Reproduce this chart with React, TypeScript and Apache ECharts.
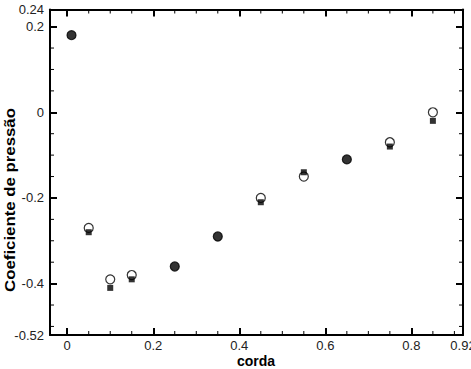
import React, { useEffect, useRef } from "react";
import * as echarts from "echarts";

const chord = [0.01, 0.05, 0.1, 0.15, 0.25, 0.35, 0.45, 0.55, 0.65, 0.75, 0.85];
const cpCircles = [0.18, -0.27, -0.39, -0.38, -0.36, -0.29, -0.2, -0.15, -0.11, -0.07, 0.0];
const cpSquares = [0.18, -0.28, -0.41, -0.39, -0.36, -0.29, -0.21, -0.14, -0.11, -0.08, -0.02];
const xMinorTicks = [0.05, 0.1, 0.15, 0.25, 0.3, 0.35, 0.45, 0.5, 0.55, 0.65, 0.7, 0.75, 0.85, 0.9];
const yMinorTicks = [-0.5, -0.45, -0.35, -0.3, -0.25, -0.15, -0.1, -0.05, 0.05, 0.1, 0.15];

const font = "Liberation Sans, Arial, Helvetica, sans-serif";
const X_MIN = -0.04;
const X_MAX = 0.92;
const Y_MIN = -0.52;
const Y_MAX = 0.24;

export default function App() {
  const ref = useRef<HTMLDivElement>(null);
  useEffect(() => {
    if (!ref.current) return;
    const chart = echarts.init(ref.current, null, { renderer: "svg" });

    const circleData = chord.map((x, i) => [x, cpCircles[i]]);
    const squareData = chord.map((x, i) =>
      Math.abs(cpCircles[i] - cpSquares[i]) < 1e-9
        ? { value: [x, cpSquares[i]], symbol: "circle", symbolSize: 9 }
        : { value: [x, cpSquares[i]] }
    );

    const minorLen = 4;
    const xMinorSeries = {
      type: "custom",
      xAxisIndex: 0,
      yAxisIndex: 0,
      silent: true,
      clip: false,
      data: xMinorTicks.map((v) => [v, Y_MIN]),
      renderItem: (params: any, api: any) => {
        const p = api.coord([api.value(0), Y_MIN]);
        const q = api.coord([api.value(0), Y_MAX]);
        return {
          type: "group",
          children: [
            { type: "line", shape: { x1: p[0], y1: p[1], x2: p[0], y2: p[1] - minorLen }, style: { stroke: "black", lineWidth: 1 } },
            { type: "line", shape: { x1: q[0], y1: q[1], x2: q[0], y2: q[1] + minorLen }, style: { stroke: "black", lineWidth: 1 } },
          ],
        };
      },
    };
    const yMinorSeries = {
      type: "custom",
      xAxisIndex: 0,
      yAxisIndex: 0,
      silent: true,
      clip: false,
      data: yMinorTicks.map((v) => [X_MIN, v]),
      renderItem: (params: any, api: any) => {
        const p = api.coord([X_MIN, api.value(1)]);
        const q = api.coord([X_MAX, api.value(1)]);
        return {
          type: "group",
          children: [
            { type: "line", shape: { x1: p[0], y1: p[1], x2: p[0] + minorLen, y2: p[1] }, style: { stroke: "black", lineWidth: 1 } },
            { type: "line", shape: { x1: q[0], y1: q[1], x2: q[0] - minorLen, y2: q[1] }, style: { stroke: "black", lineWidth: 1 } },
          ],
        };
      },
    };

    chart.setOption({
      animation: false,
      grid: { left: 50, top: 9.5, right: 8, bottom: 34, outerBoundsMode: "none" },
      xAxis: [
        { type: "value", position: "bottom", min: X_MIN, max: X_MAX, axisLine: { show: true, onZero: false, lineStyle: { color: "black", width: 2 } }, axisTick: { show: true, inside: true, length: 7, lineStyle: { color: "black", width: 2 } }, axisLabel: { color: "#222", fontSize: 13, fontFamily: font, margin: 4 }, splitLine: { show: false } },
        { type: "value", position: "top", min: X_MIN, max: X_MAX, axisLine: { show: true, onZero: false, lineStyle: { color: "black", width: 2 } }, axisTick: { show: true, inside: true, length: 7, lineStyle: { color: "black", width: 2 } }, axisLabel: { show: false }, splitLine: { show: false } },
      ],
      yAxis: [
        { type: "value", position: "left", min: Y_MIN, max: Y_MAX, axisLine: { show: true, onZero: false, lineStyle: { color: "black", width: 2 } }, axisTick: { show: true, inside: true, length: 7, lineStyle: { color: "black", width: 2 } }, axisLabel: { color: "#222", fontSize: 13, fontFamily: font, margin: 6 }, splitLine: { show: false } },
        { type: "value", position: "right", min: Y_MIN, max: Y_MAX, axisLine: { show: true, onZero: false, lineStyle: { color: "black", width: 2 } }, axisTick: { show: true, inside: true, length: 7, lineStyle: { color: "black", width: 2 } }, axisLabel: { show: false }, splitLine: { show: false } },
      ],
      series: [
        xMinorSeries,
        yMinorSeries,
        {
          type: "scatter",
          xAxisIndex: 0,
          yAxisIndex: 0,
          symbol: "circle",
          symbolSize: 9,
          itemStyle: { color: "#fff", borderColor: "black", borderWidth: 1.2 },
          data: circleData,
        },
        {
          type: "scatter",
          xAxisIndex: 0,
          yAxisIndex: 0,
          symbol: "rect",
          symbolSize: 6,
          itemStyle: { color: "black" },
          data: squareData,
        },
      ],
      graphic: [
        {
          type: "text",
          x: 10,
          y: 200,
          rotation: Math.PI / 2,
          scaleX: 1.2,
          style: {
            text: "Coeficiente de pressão",
            fontWeight: "bold",
            fontSize: 14,
            fontFamily: font,
            fill: "black",
            align: "center",
            verticalAlign: "middle",
          },
        },
        {
          type: "text",
          x: 256,
          y: 361,
          style: {
            text: "corda",
            fontWeight: "bold",
            fontSize: 14,
            fontFamily: font,
            fill: "black",
            align: "center",
            verticalAlign: "middle",
          },
        },
      ],
    });
    return () => chart.dispose();
  }, []);
  return <div ref={ref} style={{ width: 471, height: 369, position: "absolute", left: 0, top: 0 }} />;
}
